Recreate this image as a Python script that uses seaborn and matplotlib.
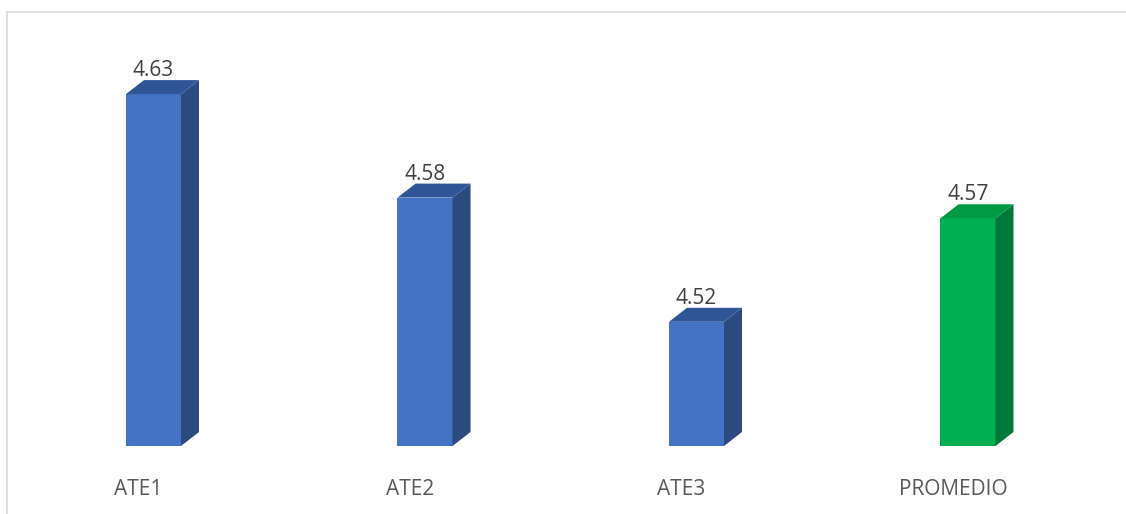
import matplotlib
matplotlib.use("Agg")
import matplotlib.pyplot as plt
import seaborn as sns
import pandas as pd
from matplotlib.patches import Polygon
from matplotlib.lines import Line2D
from matplotlib.transforms import ScaledTranslation

# Data
categories = ["ATE1", "ATE2", "ATE3", "PROMEDIO"]
values = [4.63, 4.58, 4.52, 4.57]
front_colors = ["#4472C4", "#4472C4", "#4472C4", "#00B050"]
top_colors = ["#2F5597", "#2F5597", "#2F5597", "#009A44"]
side_colors = ["#2B4A80", "#2B4A80", "#2B4A80", "#00783A"]

sns.set_theme(style="white")
plt.rcParams["font.family"] = ["Open Sans", "DejaVu Sans"]

W, H, DPI = 1126, 514, 100
fig = plt.figure(figsize=(W / DPI, H / DPI), dpi=DPI)

# axes placement in pixels
ax_left, ax_bottom, ax_w, ax_h = 17.75, 68, 1086, 414
ax = fig.add_axes([ax_left / W, ax_bottom / H, ax_w / W, ax_h / H])

df = pd.DataFrame({"cat": categories, "val": values})
sns.barplot(data=df, x="cat", y="val", hue="cat", palette=front_colors,
            width=0.2026, legend=False, ax=ax, saturation=1,
            linewidth=0, edgecolor="none")

xmin, xmax = -0.5, 3.5
ymin, ymax = 4.46, 4.66
ax.set_xlim(xmin, xmax)
ax.set_ylim(ymin, ymax)

# pixel-to-data conversion for the 3D depth of each bar
px_x = (xmax - xmin) / ax_w
px_y = (ymax - ymin) / ax_h
depth_dx = 18 * px_x
depth_dy = 14 * px_y

for patch, top_c, side_c, v in zip(ax.patches, top_colors, side_colors, values):
    x0 = patch.get_x()
    x1 = x0 + patch.get_width()
    base = ymin
    top = v
    side = Polygon([(x1, base), (x1 + depth_dx, base + depth_dy),
                    (x1 + depth_dx, top + depth_dy), (x1, top)],
                   closed=True, facecolor=side_c, edgecolor="none", zorder=3)
    topf = Polygon([(x0, top), (x0 + depth_dx, top + depth_dy),
                    (x1 + depth_dx, top + depth_dy), (x1, top)],
                   closed=True, facecolor=top_c, edgecolor="none", zorder=3)
    ax.add_patch(side)
    ax.add_patch(topf)
    patch.set_zorder(3)
    ax.text(x0 + patch.get_width() / 2, top + 18 * px_y, f"{v:.2f}",
            ha="center", va="baseline", fontsize=15, color="#404040", zorder=4)

for s in ax.spines.values():
    s.set_visible(False)
ax.set_yticks([])
ax.set_xlabel("")
ax.set_ylabel("")
ax.tick_params(axis="x", length=0, pad=24, labelsize=15, labelcolor="#595959")
for lbl in ax.get_xticklabels():
    lbl.set_transform(lbl.get_transform() +
                      ScaledTranslation(-15 / DPI, 0, fig.dpi_scale_trans))

# chart frame
border = "#D9D9D9"
fig.add_artist(Line2D([7 / W, 1.0], [1 - 11.5 / H, 1 - 11.5 / H],
                      color=border, lw=1.2, transform=fig.transFigure))
fig.add_artist(Line2D([7 / W, 7 / W], [0, 1 - 11.5 / H],
                      color=border, lw=1.2, transform=fig.transFigure))

fig.savefig("out.png", dpi=DPI)
